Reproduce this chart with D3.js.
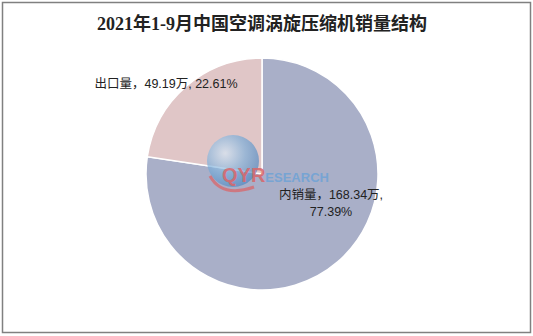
<!DOCTYPE html>
<html>
<head>
<meta charset="utf-8">
<script src="https://cdn.jsdelivr.net/npm/d3@7"></script>
<style>
  body { margin: 0; background: #fff; }
</style>
</head>
<body>
<div id="chart"></div>
<script>
// data
const categories = ["内销量", "出口量"];
const amounts = [168.34, 49.19];
const shares = ["77.39%", "22.61%"];
const colors = ["#a9afc8", "#e0c6c7"];

const width = 533, height = 336;
const cx = 262, cy = 174, radius = 116;

const svg = d3.select("#chart").append("svg")
  .attr("width", width)
  .attr("height", height);

// outer frame
svg.append("rect")
  .attr("x", 2.5).attr("y", 2.5)
  .attr("width", 528).attr("height", 330)
  .attr("fill", "#fff")
  .attr("stroke", "#808080")
  .attr("stroke-width", 1.5);

// title
svg.append("text")
  .attr("x", 262).attr("y", 30)
  .attr("text-anchor", "middle")
  .attr("font-family", "'Liberation Serif', 'Noto Sans CJK SC', serif")
  .attr("font-weight", "bold")
  .attr("font-size", 18)
  .attr("fill", "#222")
  .text("2021年1-9月中国空调涡旋压缩机销量结构");

const pie = d3.pie().sort(null).value(d => d);
const arc = d3.arc().innerRadius(0).outerRadius(radius);
const arcs = pie(amounts);

const g = svg.append("g").attr("transform", `translate(${cx},${cy})`);
g.selectAll("path")
  .data(arcs)
  .join("path")
  .attr("d", arc)
  .attr("fill", (d, i) => colors[i])
  .attr("stroke", "#fff")
  .attr("stroke-width", 1.5);

// watermark
const wm = svg.append("g");
const grad = svg.append("defs").append("radialGradient")
  .attr("id", "globe").attr("cx", "35%").attr("cy", "35%").attr("r", "70%");
grad.append("stop").attr("offset", "0%").attr("stop-color", "#d6e8f6");
grad.append("stop").attr("offset", "55%").attr("stop-color", "#7fb0da");
grad.append("stop").attr("offset", "100%").attr("stop-color", "#4f87c0");
wm.append("circle").attr("cx", 233).attr("cy", 161).attr("r", 26)
  .attr("fill", "url(#globe)").attr("opacity", 0.7);
wm.append("path")
  .attr("d", "M210,176 Q222,198 254,187")
  .attr("fill", "none").attr("stroke", "#d9666a").attr("stroke-width", 3)
  .attr("opacity", 0.75);
const wt = wm.append("text")
  .attr("x", 222).attr("y", 182)
  .attr("opacity", 0.85)
  .attr("font-family", "Arial, 'Liberation Sans', sans-serif")
  .attr("font-weight", "bold");
wt.append("tspan").attr("font-size", 20).attr("fill", "#d9666a").text("QYR");
wt.append("tspan").attr("font-size", 13).attr("fill", "#6fa3d6").text("ESEARCH");

// data labels
const labelFont = "'Liberation Sans', 'Noto Sans CJK SC', sans-serif";
svg.append("text")
  .attr("x", 166).attr("y", 88)
  .attr("text-anchor", "middle")
  .attr("font-family", labelFont).attr("font-size", 12.5).attr("fill", "#222")
  .text(`${categories[1]}，${amounts[1]}万, ${shares[1]}`);

const t0 = svg.append("text")
  .attr("text-anchor", "middle")
  .attr("font-family", labelFont).attr("font-size", 12.5).attr("fill", "#222");
t0.append("tspan").attr("x", 331).attr("y", 199)
  .text(`${categories[0]}，${amounts[0]}万,`);
t0.append("tspan").attr("x", 331).attr("y", 216)
  .text(shares[0]);
</script>
</body>
</html>
